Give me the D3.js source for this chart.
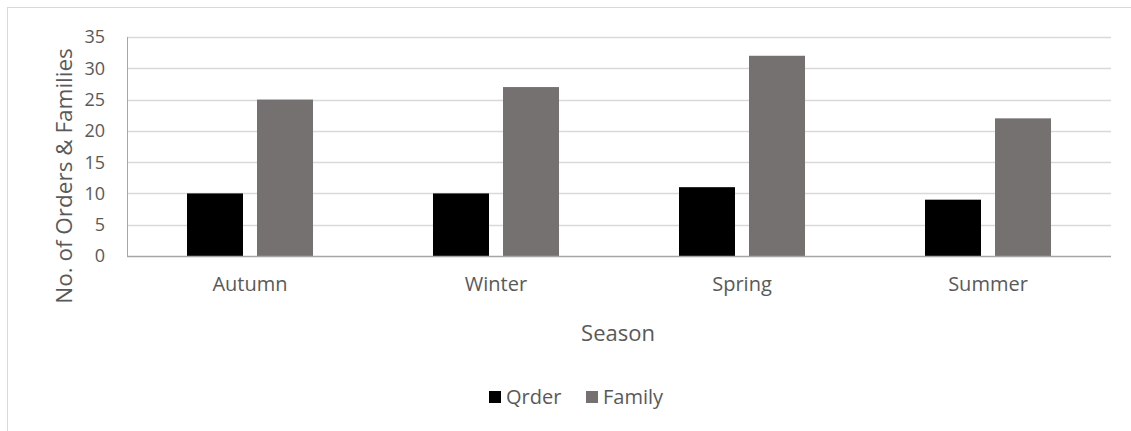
<!DOCTYPE html>
<html>
<head>
<meta charset="utf-8">
<script src="https://cdn.jsdelivr.net/npm/d3@7"></script>
<style>
  html, body { margin: 0; padding: 0; background: #fff; }
  svg { display: block; }
  text { font-family: "Open Sans", sans-serif; fill: #595959; }
</style>
</head>
<body>
<svg id="chart" width="1131" height="431"></svg>
<script>
// Number of orders and families recorded per season
const seasons = ["Autumn", "Winter", "Spring", "Summer"];
const orderCounts = [10, 10, 11, 9];
const familyCounts = [25, 27, 32, 22];
const seriesNames = ["Qrder", "Family"];
const seriesColors = ["#000000", "#767171"];
const yTicks = [0, 5, 10, 15, 20, 25, 30, 35];

const svg = d3.select("#chart");
const W = 1131, H = 431;

// chart frame
svg.append("rect")
  .attr("x", 7.5).attr("y", 7.5)
  .attr("width", W + 10).attr("height", H + 10)
  .attr("fill", "none").attr("stroke", "#d9d9d9").attr("stroke-width", 1);

const plot = { left: 127, right: 1111, top: 37, bottom: 256 };

const x = d3.scaleBand().domain(seasons).range([plot.left, plot.right]).paddingInner(0).paddingOuter(0);
const xInner = d3.scaleBand().domain(seriesNames).range([0, x.bandwidth()]).paddingInner(0.2).paddingOuter(0.857);
const y = d3.scaleLinear().domain([0, 35]).range([plot.bottom, plot.top]);

// gridlines
svg.append("g").selectAll("line").data(yTicks.filter(d => d > 0)).join("line")
  .attr("x1", plot.left).attr("x2", plot.right)
  .attr("y1", d => Math.round(y(d)) + 0.5).attr("y2", d => Math.round(y(d)) + 0.5)
  .attr("stroke", "#d9d9d9").attr("stroke-width", 1.3);

// y tick labels
svg.append("g").selectAll("text").data(yTicks).join("text")
  .attr("x", 105).attr("y", d => y(d))
  .attr("dy", "0.36em")
  .attr("text-anchor", "end")
  .attr("font-size", 18)
  .text(d => d);

// bars
const rows = seasons.map((s, i) => ({ season: s, values: [orderCounts[i], familyCounts[i]] }));
const groups = svg.append("g").selectAll("g").data(rows).join("g")
  .attr("transform", d => `translate(${x(d.season)},0)`);
groups.selectAll("rect").data(d => d.values.map((v, j) => ({ key: seriesNames[j], v, j }))).join("rect")
  .attr("x", d => xInner(d.key))
  .attr("width", xInner.bandwidth())
  .attr("y", d => y(d.v))
  .attr("height", d => y(0) - y(d.v))
  .attr("fill", d => seriesColors[d.j]);

// x axis line
svg.append("line")
  .attr("x1", plot.left).attr("x2", plot.right)
  .attr("y1", plot.bottom + 0.5).attr("y2", plot.bottom + 0.5)
  .attr("stroke", "#a6a6a6").attr("stroke-width", 1.5);
// y axis line
svg.append("line")
  .attr("x1", plot.left + 0.5).attr("x2", plot.left + 0.5)
  .attr("y1", plot.top).attr("y2", plot.bottom)
  .attr("stroke", "#a6a6a6").attr("stroke-width", 1);

// category labels
svg.append("g").selectAll("text").data(seasons).join("text")
  .attr("x", d => x(d) + x.bandwidth() / 2)
  .attr("y", 291)
  .attr("text-anchor", "middle")
  .attr("font-size", 20)
  .text(d => d);

// axis titles
svg.append("text")
  .attr("x", (plot.left + plot.right) / 2 - 1)
  .attr("y", 341)
  .attr("text-anchor", "middle")
  .attr("font-size", 22)
  .text("Season");

svg.append("text")
  .attr("transform", "translate(72,176) rotate(-90)")
  .attr("text-anchor", "middle")
  .attr("font-size", 22.5)
  .text("No. of Orders & Families");

// legend
const legendItems = [
  { name: seriesNames[0], color: seriesColors[0], x: 489 },
  { name: seriesNames[1], color: seriesColors[1], x: 586 }
];
const lg = svg.append("g").selectAll("g").data(legendItems).join("g")
  .attr("transform", d => `translate(${d.x},397)`);
lg.append("rect").attr("x", 0).attr("y", -6).attr("width", 12).attr("height", 12)
  .attr("fill", d => d.color);
lg.append("text").attr("x", 17).attr("y", 0).attr("dy", "0.36em")
  .attr("font-size", 20)
  .text(d => d.name);
</script>
</body>
</html>
